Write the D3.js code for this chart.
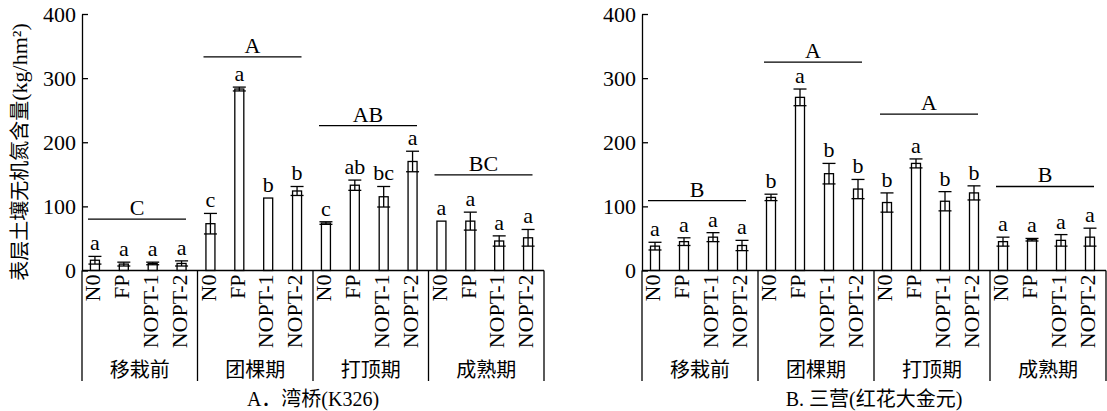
<!DOCTYPE html>
<html>
<head>
<meta charset="utf-8">
<script src="https://cdn.jsdelivr.net/npm/d3@7/dist/d3.min.js"></script>
<style>
	body { margin: 0; background: #fff; }
	svg { display: block; }
	text { font-family: "Liberation Serif", "Noto Sans CJK SC", serif; fill: #000; }
</style>
</head>
<body>
<svg id="chart" width="1107" height="411"></svg>
<script>
// categories
var stages = ["移栽前", "团棵期", "打顶期", "成熟期"];
var treatments = ["N0", "FP", "NOPT-1", "NOPT-2"];
var yTicks = [0, 100, 200, 300, 400];

// A. 湾桥(K326)
var meanA = [[16, 10, 11, 11], [73, 283, 113, 124], [74, 133, 115, 170], [77, 77, 46, 51]];
var errA = [[6, 3, 2, 4], [16, 3, 0, 7], [2, 8, 16, 16], [0, 14, 8, 13]];
var letterA = [["a", "a", "a", "a"], ["c", "a", "b", "b"], ["c", "ab", "bc", "a"], ["a", "a", "a", "a"]];
var groupLetterA = ["C", "A", "AB", "BC"];
var groupLineA = [80, 333, 226, 149];

// B. 三营(红花大金元)
var meanB = [[38, 45, 52, 39], [114, 270, 151, 127], [106, 167, 108, 121], [45, 48, 47, 52]];
var errB = [[6, 6, 7, 8], [5, 13, 16, 15], [15, 7, 15, 11], [7, 2, 9, 14]];
var letterB = [["a", "a", "a", "a"], ["b", "a", "b", "b"], ["b", "a", "b", "b"], ["a", "a", "a", "a"]];
var groupLetterB = ["B", "A", "A", "B"];
var groupLineB = [109, 325, 244, 131];

var svg = d3.select("#chart");

function drawPanel(left, right, mean, err, letters, gLetters, gLines, title, showYLabel) {
	var top = 14, bottom = 270.5, sepBottom = 381;
	var g = svg.append("g");

	var y = d3.scaleLinear().domain([0, 400]).range([bottom, top]);

	// The scale spacing the groups:
	var x0 = d3.scaleBand().domain(stages).range([left, right]);
	// The scale for each group's bar:
	var x1 = d3.scaleBand().domain(treatments).range([-1.5, x0.bandwidth() - 1.5]);

	var rows = [];
	stages.forEach(function(s, i) {
		treatments.forEach(function(t, j) {
			rows.push({stage: s, key: t, value: mean[i][j], err: err[i][j], letter: letters[i][j]});
		});
	});
	function cx(d) { return x0(d.stage) + x1(d.key) + x1.bandwidth() / 2; }

	// y axis
	g.append("g")
		.attr("transform", "translate(" + left + ",0)")
		.call(d3.axisLeft(y).tickValues(yTicks).tickSizeInner(-6).tickSizeOuter(0).tickPadding(6))
		.call(function(a) {
			a.selectAll("path, line").attr("stroke", "#000").attr("stroke-width", 1.3);
			a.selectAll("text").attr("font-size", 22).attr("font-family", "Liberation Serif");
		});

	// bars
	var bw = 9;
	g.append("g").selectAll("rect")
		.data(rows)
		.enter().append("rect")
		.attr("x", function(d) { return cx(d) - bw / 2; })
		.attr("y", function(d) { return y(d.value); })
		.attr("width", bw)
		.attr("height", function(d) { return y(0) - y(d.value); })
		.attr("fill", "#fff")
		.attr("stroke", "#000")
		.attr("stroke-width", 1.3);

	// error bars
	var eb = g.append("g").selectAll("g")
		.data(rows.filter(function(d) { return d.err > 0; }))
		.enter().append("g")
		.attr("stroke", "#000")
		.attr("stroke-width", 1.3);
	eb.append("line")
		.attr("x1", cx).attr("x2", cx)
		.attr("y1", function(d) { return y(d.value + d.err); })
		.attr("y2", function(d) { return y(d.value - d.err); });
	eb.append("line")
		.attr("x1", function(d) { return cx(d) - 6.5; })
		.attr("x2", function(d) { return cx(d) + 6.5; })
		.attr("y1", function(d) { return y(d.value + d.err); })
		.attr("y2", function(d) { return y(d.value + d.err); });
	eb.append("line")
		.attr("x1", function(d) { return cx(d) - 6.5; })
		.attr("x2", function(d) { return cx(d) + 6.5; })
		.attr("y1", function(d) { return y(d.value - d.err); })
		.attr("y2", function(d) { return y(d.value - d.err); });

	// significance letters
	g.append("g").selectAll("text")
		.data(rows)
		.enter().append("text")
		.attr("x", cx)
		.attr("y", function(d) { return y(d.value + d.err) - 6; })
		.attr("text-anchor", "middle")
		.attr("font-size", 22)
		.text(function(d) { return d.letter; });

	// group letters and lines
	var grp = g.append("g").selectAll("g")
		.data(stages)
		.enter().append("g");
	grp.append("line")
		.attr("x1", function(d) { return x0(d) + 6; })
		.attr("x2", function(d) { return x0(d) + 104; })
		.attr("y1", function(d, i) { return y(gLines[i]); })
		.attr("y2", function(d, i) { return y(gLines[i]); })
		.attr("stroke", "#000")
		.attr("stroke-width", 1.3);
	grp.append("text")
		.attr("x", function(d) { return x0(d) + 55; })
		.attr("y", function(d, i) { return y(gLines[i]) - 4; })
		.attr("text-anchor", "middle")
		.attr("font-size", 22)
		.text(function(d, i) { return gLetters[i]; });

	// x axis: baseline, separators, labels
	g.append("line")
		.attr("x1", left).attr("x2", right)
		.attr("y1", y(0)).attr("y2", y(0))
		.attr("stroke", "#000").attr("stroke-width", 1.3);
	g.append("g").selectAll("line")
		.data(x0.domain().map(function(d) { return x0(d); }).concat([right]))
		.enter().append("line")
		.attr("x1", function(d) { return d; })
		.attr("x2", function(d) { return d; })
		.attr("y1", y(0))
		.attr("y2", sepBottom)
		.attr("stroke", "#000")
		.attr("stroke-width", 1.3);

	g.append("g").selectAll("text")
		.data(rows)
		.enter().append("text")
		.attr("transform", function(d) { return "translate(" + (cx(d) - 2) + "," + (y(0) + 4) + ") rotate(-90)"; })
		.attr("dy", "0.33em")
		.attr("text-anchor", "end")
		.attr("font-size", 22)
		.text(function(d) { return d.key; });

	g.append("g").selectAll("text")
		.data(stages)
		.enter().append("text")
		.attr("x", function(d) { return x0(d) + x0.bandwidth() / 2; })
		.attr("y", 377)
		.attr("text-anchor", "middle")
		.attr("font-size", 20)
		.text(function(d) { return d; });

	g.append("text")
		.attr("x", (left + right) / 2)
		.attr("y", 406)
		.attr("text-anchor", "middle")
		.attr("font-size", 20)
		.text(title);

	if (showYLabel) {
		var yl = g.append("text")
			.attr("transform", "translate(20," + 152 + ") rotate(-90)")
			.attr("dy", "0.35em")
			.attr("text-anchor", "middle")
			.attr("font-size", 20);
		yl.append("tspan").text("表层土壤无机氮含量");
		yl.append("tspan").attr("font-size", 22).text("(kg/hm²)");
	}
}

drawPanel(82, 544, meanA, errA, letterA, groupLetterA, groupLineA, "A．湾桥(K326)", true);
drawPanel(642, 1106, meanB, errB, letterB, groupLetterB, groupLineB, "B. 三营(红花大金元)", false);
</script>
</body>
</html>
